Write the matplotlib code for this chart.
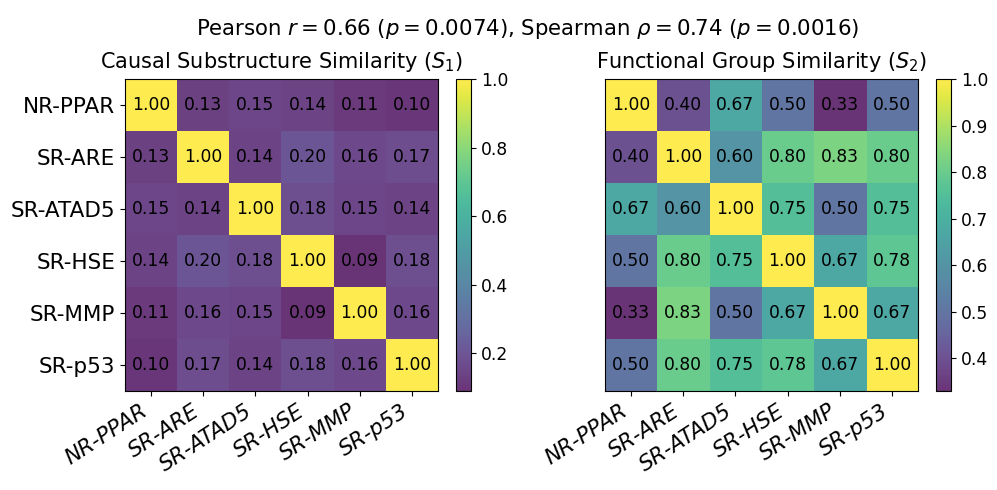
import numpy as np
import matplotlib
matplotlib.use("Agg")
import matplotlib.pyplot as plt

tasks = ["NR-PPAR", "SR-ARE", "SR-ATAD5", "SR-HSE", "SR-MMP", "SR-p53"]

s1 = np.array([
    [1.00, 0.13, 0.15, 0.14, 0.11, 0.10],
    [0.13, 1.00, 0.14, 0.20, 0.16, 0.17],
    [0.15, 0.14, 1.00, 0.18, 0.15, 0.14],
    [0.14, 0.20, 0.18, 1.00, 0.09, 0.18],
    [0.11, 0.16, 0.15, 0.09, 1.00, 0.16],
    [0.10, 0.17, 0.14, 0.18, 0.16, 1.00],
])

s2 = np.array([
    [1.00, 0.40, 0.67, 0.50, 0.33, 0.50],
    [0.40, 1.00, 0.60, 0.80, 0.83, 0.80],
    [0.67, 0.60, 1.00, 0.75, 0.50, 0.75],
    [0.50, 0.80, 0.75, 1.00, 0.67, 0.78],
    [0.33, 0.83, 0.50, 0.67, 1.00, 0.67],
    [0.50, 0.80, 0.75, 0.78, 0.67, 1.00],
])

titles = [r"Causal Substructure Similarity ($S_1$)", r"Functional Group Similarity ($S_2$)"]
suptitle = r"Pearson $r=0.66$ ($p=0.0074$), Spearman $\rho=0.74$ ($p=0.0016$)"

fig = plt.figure(figsize=(9.97, 4.9), dpi=100)
H = 490.0
W = 997.0
bottom = 1 - 391 / H
height = (391 - 79) / H
ax_left = [125 / W, 605 / W]
cb_left = [456 / W, 936 / W]

for i, (mat, title) in enumerate(zip([s1, s2], titles)):
    ax = fig.add_axes([ax_left[i], bottom, 313 / W, height])
    cax = fig.add_axes([cb_left[i], bottom, 15 / W, height])
    im = ax.imshow(mat, cmap="viridis", alpha=0.8, aspect="auto")
    for r in range(mat.shape[0]):
        for c in range(mat.shape[1]):
            ax.text(c, r, f"{mat[r, c]:.2f}", ha="center", va="center", fontsize=12.3, color="black")
    ax.set_xticks(range(len(tasks)))
    ax.set_xticklabels(tasks, rotation=33, ha="right", fontsize=15.5, style="italic")
    if i == 0:
        ax.set_yticks(range(len(tasks)))
        ax.set_yticklabels(tasks, fontsize=15.5)
    else:
        ax.set_yticks([])
    ax.set_title(title, fontsize=15, pad=8)
    cb = fig.colorbar(im, cax=cax)
    cb.ax.tick_params(labelsize=12.3)

fig.suptitle(suptitle, fontsize=15.3, x=0.529, y=0.965)
fig.savefig("out.png", dpi=100)
